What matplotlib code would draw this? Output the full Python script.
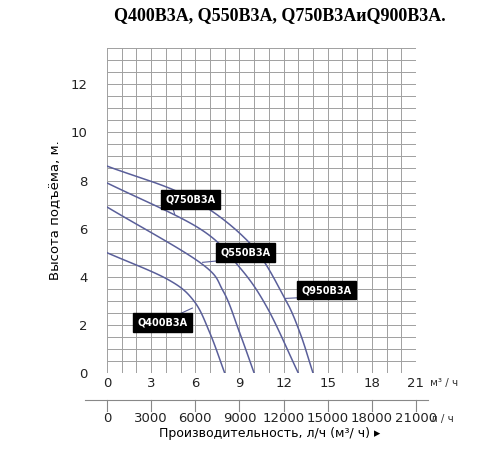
import matplotlib
matplotlib.use("Agg")
import matplotlib.pyplot as plt
import numpy as np
from matplotlib.ticker import MultipleLocator

q950_x = [0, 5.6, 9.7, 12.0, 13.1, 14.0]
q950_y = [8.6, 7.3, 5.4, 3.2, 1.7, 0]
q750_x = [0, 6.3, 9.0, 10.9, 13.0]
q750_y = [7.9, 6.0, 4.4, 2.7, 0]
q550_x = [0, 6.3, 7.9, 9.0, 10.0]
q550_y = [6.9, 4.6, 3.4, 1.7, 0]
q400_x = [0, 4.1, 5.9, 7.0, 8.0]
q400_y = [5.0, 3.9, 3.0, 1.65, 0]
labels = ["Q750B3A", "Q550B3A", "Q950B3A", "Q400B3A"]
label_pos = [(5.65, 7.2), (9.4, 5.0), (14.9, 3.45), (3.8, 2.1)]
leader_to = [(4.6, 6.6), (6.5, 4.6), (12.1, 3.1), (5.8, 2.7)]
x_ticks = [0, 3, 6, 9, 12, 15, 18, 21]
l_ticks = ["0", "3000", "6000", "9000", "12000", "15000", "18000", "21000"]
y_ticks = [0, 2, 4, 6, 8, 10, 12]

def catmull(xs, ys, n=30):
    p = np.column_stack([xs, ys]).astype(float)
    p = np.vstack([2 * p[0] - p[1], p, 2 * p[-1] - p[-2]])
    out = []
    for i in range(1, len(p) - 2):
        p0, p1, p2, p3 = p[i - 1], p[i], p[i + 1], p[i + 2]
        t = np.linspace(0, 1, n)[:, None]
        out.append(0.5 * ((2 * p1) + (-p0 + p2) * t + (2 * p0 - 5 * p1 + 4 * p2 - p3) * t**2
                          + (-p0 + 3 * p1 - 3 * p2 + p3) * t**3))
    out = np.vstack(out)
    return out[:, 0], out[:, 1]

fig = plt.figure(figsize=(5, 4.5), dpi=100)
ax = fig.add_axes([0.214, 0.171, 0.618, 0.722])
ax.set_xlim(0, 21)
ax.set_ylim(0, 13.5)
ax.xaxis.set_minor_locator(MultipleLocator(1))
ax.yaxis.set_minor_locator(MultipleLocator(0.5))
ax.grid(which="both", color="#a0a0a0", lw=0.7)
ax.set_xticks(x_ticks)
ax.set_yticks(y_ticks)
ax.tick_params(which="both", length=0, labelsize=9.5, colors="#222222")
ax.tick_params(axis="x", pad=3)
ax.tick_params(axis="y", pad=14)
for s in ax.spines.values():
    s.set_visible(False)
ax.set_ylabel("Высота подъёма, м.", fontsize=9.5, labelpad=6)

for xs, ys in [(q950_x, q950_y), (q750_x, q750_y), (q550_x, q550_y), (q400_x, q400_y)]:
    sx, sy = catmull(xs, ys)
    ax.plot(sx, sy, color="#5a5f9a", lw=1.1)

for lab, (lx, ly), (tx, ty) in zip(labels, label_pos, leader_to):
    ax.plot([lx - 1.2, tx], [ly - 0.3, ty], color="#5a5f9a", lw=0.8, zorder=3)
    ax.text(lx, ly, lab, ha="center", va="center", fontsize=7, fontweight="bold",
            color="white", zorder=4,
            bbox=dict(boxstyle="square,pad=0.45", fc="black", ec="black"))

fig.text(0.86, 0.148, "м³ / ч", fontsize=7.5, color="#333333", va="center")

ax2 = fig.add_axes([0.214, 0.081, 0.618, 0.03])
ax2.set_xlim(0, 21)
ax2.set_ylim(0, 1)
ax2.axis("off")
ax2.plot([-1.5, 21.8], [1, 1], color="#888888", lw=0.8, clip_on=False)
for xt, lt in zip(x_ticks, l_ticks):
    ax2.plot([xt, xt], [1, 0.2], color="#888888", lw=0.8, clip_on=False)
    ax2.text(xt, -0.4, lt, ha="center", va="center", fontsize=9.5, color="#222222")
ax2.text(22.8, -0.4, "л / ч", ha="center", va="center", fontsize=7.5, color="#333333")
fig.text(0.54, 0.028, "Производительность, л/ч (м³/ ч) ▸", ha="center", fontsize=9)

fig.text(0.56, 0.965, "Q400B3A, Q550B3A, Q750B3AиQ900B3A.", ha="center", va="center",
         fontsize=13, fontweight="bold", family="Liberation Serif")

fig.savefig("out.png", dpi=100, facecolor="white")
